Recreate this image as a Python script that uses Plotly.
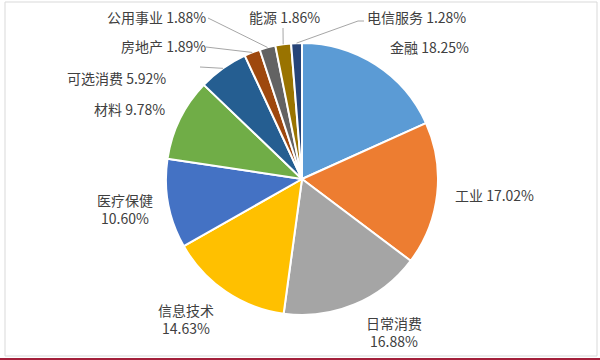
import math
import plotly.graph_objects as go

sectors = ["金融", "工业", "日常消费", "信息技术", "医疗保健", "材料", "可选消费",
           "房地产", "公用事业", "能源", "电信服务"]
weights = [18.25, 17.02, 16.88, 14.63, 10.60, 9.78, 5.92, 1.89, 1.88, 1.86, 1.28]
colors = ["#5B9BD5", "#ED7D31", "#A5A5A5", "#FFC000", "#4472C4", "#70AD47",
          "#255E91", "#9E480E", "#636363", "#997300", "#264478"]

W, H = 600, 360
CX, CY, R = 302, 179, 136

# label placement: (x, y, xanchor, two-line?, leader start or None)
label_pos = {
    "金融": (388, 47, "left", False, None),
    "工业": (453, 195, "left", False, None),
    "日常消费": (394, 332, "center", True, None),
    "信息技术": (186, 319, "center", True, None),
    "医疗保健": (125, 209, "center", True, None),
    "材料": (167, 109, "right", False, None),
    "可选消费": (168, 78, "right", False, (200, 67)),
    "房地产": (208, 46, "right", False, (206, 47)),
    "公用事业": (208, 17, "right", False, (208, 18)),
    "能源": (284, 17, "center", False, (283, 28)),
    "电信服务": (365, 17, "left", False, (358, 21)),
}

fig = go.Figure()
fig.add_trace(go.Pie(
    labels=sectors, values=weights, sort=False, direction="clockwise", rotation=0,
    marker=dict(colors=colors, line=dict(color="white", width=2)),
    textinfo="none", hoverinfo="label+percent", showlegend=False,
    domain=dict(x=[(CX - R) / W, (CX + R) / W], y=[(H - CY - R) / H, (H - CY + R) / H]),
))

# hidden pixel axes for labels and leader lines
fig.add_trace(go.Scatter(x=[0, W], y=[0, H], mode="markers", marker=dict(opacity=0),
                         hoverinfo="skip", showlegend=False))

total = sum(weights)
cum = 0.0
annotations = []
shapes = []
for name, v in zip(sectors, weights):
    mid = (cum + v / 2) / total * 2 * math.pi
    cum += v
    px = CX + R * math.sin(mid)
    py = CY - R * math.cos(mid)
    x, y, anchor, two, start = label_pos[name]
    text = f"{name}<br>{v:.2f}%" if two else f"{name} {v:.2f}%"
    annotations.append(dict(x=x, y=y, xref="x", yref="y", text=text, showarrow=False,
                            xanchor=anchor, yanchor="middle",
                            font=dict(size=14, color="#404040",
                                      family="Noto Sans CJK SC")))
    if start is not None:
        sx, sy = start
        if name == "电信服务":
            shapes.append(dict(type="line", xref="x", yref="y", x0=sx, y0=sy, x1=sx + 6, y1=sy,
                               line=dict(color="#A6A6A6", width=1)))
        shapes.append(dict(type="line", xref="x", yref="y", x0=sx, y0=sy, x1=px, y1=py,
                           line=dict(color="#A6A6A6", width=1)))

# chart frame and bottom rule
shapes.append(dict(type="rect", xref="x", yref="y", x0=5, y0=2, x1=597, y1=356,
                   line=dict(color="#D9D9D9", width=1), layer="below"))
shapes.append(dict(type="line", xref="x", yref="y", x0=0, y0=359, x1=600, y1=359,
                   line=dict(color="#A31F3A", width=2)))

fig.update_layout(
    width=W, height=H, margin=dict(l=0, r=0, t=0, b=0),
    paper_bgcolor="white", plot_bgcolor="white",
    xaxis=dict(range=[0, W], visible=False, fixedrange=True),
    yaxis=dict(range=[H, 0], visible=False, fixedrange=True),
    annotations=annotations, shapes=shapes,
)
fig.write_html("out.html", config={"displayModeBar": False},
               post_script="document.body.style.margin='0px';document.body.style.overflow='hidden';")
